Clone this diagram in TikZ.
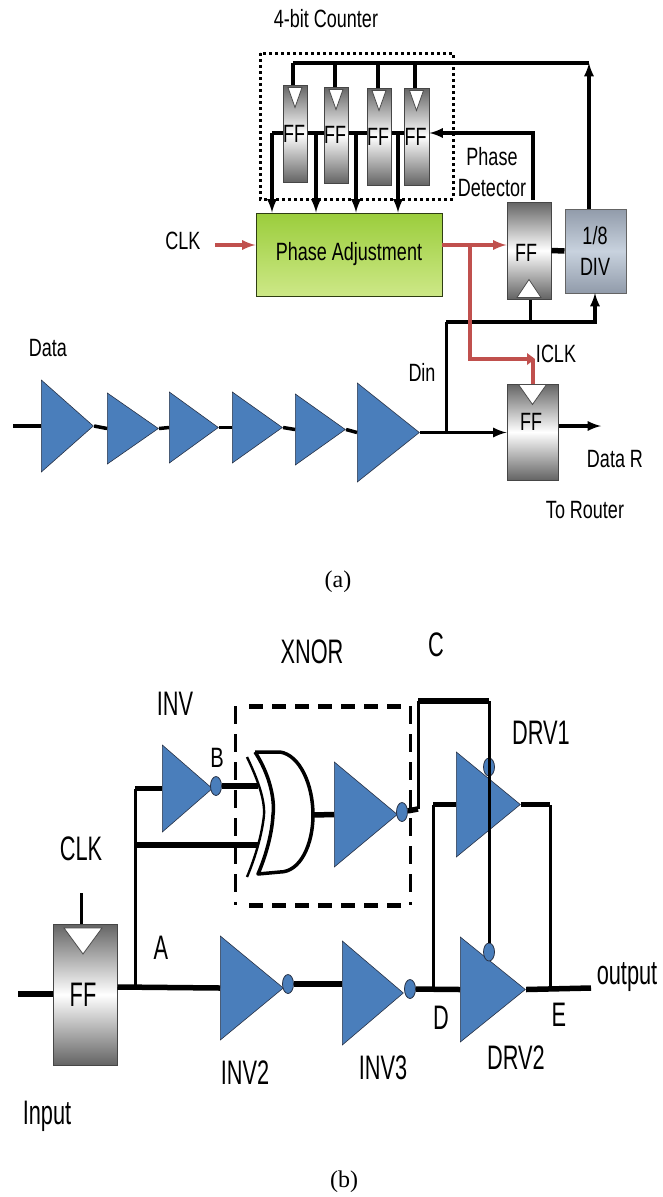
\documentclass[tikz,border=0pt]{standalone}
\usepackage{fontspec}
\usepackage{xcolor}
\usetikzlibrary{shapes.geometric,calc}
\setmainfont{Liberation Sans}
\newfontfamily\smallfont[FakeStretch=0.72]{Liberation Sans}
\newfontfamily\largefont[FakeStretch=0.64]{Liberation Sans}
\newfontfamily\capfont{Liberation Serif}
\definecolor{bufblue}{RGB}{74,126,187}
\definecolor{darkline}{RGB}{40,50,70}
\definecolor{clkred}{RGB}{192,80,77}
\definecolor{ffgray}{RGB}{100,100,100}
\definecolor{divgray}{RGB}{145,155,170}
\definecolor{divlight}{RGB}{200,210,222}
\definecolor{adjtop}{RGB}{155,205,60}
\definecolor{adjbottom}{RGB}{205,232,135}
\tikzset{
  labela/.style={inner sep=0pt, align=center, font=\smallfont\fontsize{25}{31}\selectfont},
  labelb/.style={inner sep=0pt, align=center, font=\largefont\fontsize{34}{38}\selectfont},
  caplabel/.style={inner sep=0pt, font=\capfont\fontsize{24}{28}\selectfont},
  wire/.style={draw=black, line width=3.5pt},
  wirefat/.style={draw=black, line width=5.5pt},
  wirethin/.style={draw=black, line width=3pt},
  redwire/.style={draw=clkred, line width=3.5pt},
  buf/.style={isosceles triangle, isosceles triangle stretches, shape border rotate=0,
    draw=darkline, line width=.6pt, fill=bufblue, inner sep=0pt, anchor=lower side},
  bubble/.style={ellipse, draw=darkline, line width=.8pt, fill=bufblue, inner sep=0pt,
    minimum width=11pt, minimum height=19pt},
  ffbox/.style={rectangle, draw=ffgray!70!black, line width=1pt, inner sep=0pt,
    top color=ffgray, bottom color=ffgray, middle color=white},
  divbox/.style={rectangle, draw=ffgray, line width=1pt, inner sep=0pt,
    top color=divgray, bottom color=divgray, middle color=divlight},
  adjbox/.style={rectangle, draw=black!70!adjtop, line width=1pt, inner sep=0pt,
    top color=adjtop, bottom color=adjbottom},
  clocktri/.style={draw=black!70, line width=.8pt, fill=white},
}
\begin{document}
\begin{tikzpicture}[x=1pt, y=-1pt]
  \useasboundingbox (0,0) rectangle (662,1197);

  % part (a): counter
  \node[ffbox, minimum width=24pt, minimum height=97pt] (ffa) at (295,133.5) {};
  \node[ffbox, minimum width=24pt, minimum height=96pt] (ffb) at (336,135) {};
  \node[ffbox, minimum width=24pt, minimum height=97pt] (ffc) at (379,136.5) {};
  \node[ffbox, minimum width=25pt, minimum height=97pt] (ffd) at (416.5,136.5) {};
  \foreach \n in {ffa,ffb,ffc,ffd}{
    \path[clocktri] ($(\n.north)+(-7,3)$) -- ++(14,0) -- ++(-7,20) -- cycle;
    \node[labela] at ($(\n.center)+(-1,0)$) {FF};
  }
  \node[adjbox, minimum width=186pt, minimum height=83pt, font=\smallfont\fontsize{25}{31}\selectfont] (adj) at (349,254.5) {Phase Adjustment};
  \node[ffbox, minimum width=44pt, minimum height=97pt] (ffp) at (529,250.5) {};
  \node[labela] (ffplabel) at (526,253) {FF};
  \path[clocktri] ($(ffp.south)+(-12,-2)$) -- ++(24,0) -- ++(-12,-18) -- cycle;
  \node[divbox, minimum width=61pt, minimum height=84pt] (div) at (595.5,251) {};
  \node[labela] (divlabel) at (595,251) {1/8\\DIV};

  \coordinate (bustop) at (293,63);
  \coordinate (busend) at (589,63);
  \draw[wire] (bustop) -- (busend);
  \draw[wire] (bustop) -- (293,85);
  \draw[wire] (335,63) -- (335,87);
  \draw[wire] (378,63) -- (378,88);
  \draw[wire] (415,63) -- (415,88);
  \draw[wire,-latex] (div.north -| busend) -- (busend);

  \coordinate (cha) at (272,133);
  \coordinate (chb) at (316,133);
  \coordinate (chc) at (356,133);
  \coordinate (chd) at (398,133);
  \coordinate (pdup) at (533,200);
  \draw[wire] (cha) -- (ffa.west |- cha);
  \draw[wire] (ffa.east |- cha) -- (ffb.west |- cha);
  \draw[wire] (ffb.east |- cha) -- (ffc.west |- cha);
  \draw[wire] (ffc.east |- cha) -- (ffd.west |- cha);
  \draw[wire,-latex] (cha) -- (cha |- adj.north);
  \draw[wire,-latex] (chb) -- (chb |- adj.north);
  \draw[wire,-latex] (chc) -- (chc |- adj.north);
  \draw[wire,-latex] (chd) -- (chd |- adj.north);
  \draw[wire,-latex] (pdup) |- (ffd.east |- cha);
  \draw[wirefat] (ffp.east) -- (div.west);

  \draw[line width=3pt, dash pattern=on 3pt off 3pt] (260,53) rectangle (453,199);

  \coordinate (clkin) at (215,245);
  \coordinate (adjout) at (442,245);
  \draw[redwire,-latex] (clkin) -- (adj.west |- clkin);
  \draw[redwire,-latex] (adjout) -- (ffp.west |- adjout);

  \node[labela] (cntlabel) at (326,19) {4-bit Counter};
  \node[labela] (pdlabel) at (492,172) {Phase\\Detector};
  \node[labela] (clkalabel) at (183,241) {CLK};

  % part (a): data path
  \node[buf, minimum width=92pt, minimum height=52pt] (ta) at (41,426) {};
  \node[buf, minimum width=71pt, minimum height=51pt] (tb) at (107,428.5) {};
  \node[buf, minimum width=71pt, minimum height=49pt] (tc) at (169,427.5) {};
  \node[buf, minimum width=71pt, minimum height=50pt] (td) at (232,427.5) {};
  \node[buf, minimum width=71pt, minimum height=50pt] (te) at (295,429.5) {};
  \node[buf, minimum width=99pt, minimum height=62pt] (tf) at (357,432.5) {};
  \node[ffbox, minimum width=51pt, minimum height=96pt] (ffr) at (532.5,432) {};
  \node[labela] (ffrlabel) at (531,422) {FF};
  \path[clocktri] ($(ffr.north)+(-14,1)$) -- ++(28,0) -- ++(-14,20) -- cycle;

  \coordinate (ina) at (13,426);
  \coordinate (outr) at (601,426);
  \coordinate (jd) at (446,432);
  \coordinate (jn) at (446,322);
  \coordinate (divin) at (595,293);
  \coordinate (ffpin) at (530,322);
  \coordinate (redup) at (470,245);
  \coordinate (redin) at (533,359);
  \draw[wire] (ina) -- (ta.lower side);
  \draw[wire] (ta.apex) -- (tb.lower side);
  \draw[wire] (tb.apex) -- (tc.lower side);
  \draw[wire] (tc.apex) -- (td.lower side);
  \draw[wire] (td.apex) -- (te.lower side);
  \draw[wire] (te.apex) -- (tf.lower side);
  \draw[wire,-latex] (tf.apex) -- (ffr.west |- tf.apex);
  \draw[wire,-latex] (ffr.east |- outr) -- (outr);
  \draw[wirethin] (jd) -- (jn);
  \draw[wire,-latex] (jn) -| (divin);
  \draw[wirethin] (ffpin) -- (ffpin |- ffp.south);
  \draw[redwire] (redup) |- (redin);
  \draw[redwire] (redin |- ffr.north) -- (redin);
  \fill[clkred] (527,353) -- (535,359) -- (527,365) -- cycle;

  \node[labela] (datalabel) at (48,348) {Data};
  \node[labela] (dinlabel) at (422,372) {Din};
  \node[labela] (iclklabel) at (556,354) {ICLK};
  \node[labela] (datarlabel) at (615,459) {Data R};
  \node[labela] (routerlabel) at (585,510) {To Router};
  \node[caplabel] (capa) at (338,582) {(a)};

  % part (b): gates
  \node[buf, minimum width=87pt, minimum height=50pt] (inva) at (162,788.5) {};
  \node[bubble] (bubinv) at (216,786) {};
  \node[buf, minimum width=105pt, minimum height=63pt] (invx) at (334,814.5) {};
  \node[bubble] (bubx) at (402,812) {};
  \node[buf, minimum width=105pt, minimum height=64pt] (drva) at (456,804.5) {};
  \node[buf, minimum width=104pt, minimum height=63pt] (inve) at (220,988) {};
  \node[bubble] (bube) at (288,984) {};
  \node[buf, minimum width=104pt, minimum height=61pt] (invf) at (342,993) {};
  \node[bubble] (bubf) at (410,989) {};
  \node[buf, minimum width=105pt, minimum height=65pt] (drvb) at (460,989.5) {};
  \node[ffbox, minimum width=64pt, minimum height=141pt] (ffin) at (85,994.5) {};
  \node[labelb] (ffinlabel) at (83,995) {FF};
  \path[clocktri] (64,928) -- (102,928) -- (83,954) -- cycle;

  \coordinate (xa) at (258,786);
  \coordinate (xb) at (258,845);
  \coordinate (xo) at (313,815);
  \coordinate (ja) at (135,987);
  \coordinate (inb) at (18,994);
  \coordinate (jx) at (135,845);
  \coordinate (clkb) at (81,893);
  \coordinate (outb) at (591,988);
  \draw[line width=3.5pt, line join=round] (255,752) -- (280,752) .. controls (300,755) and (313,785) .. (xo)
    .. controls (313,845) and (300,872) .. (280,872) -- (258,874)
    .. controls (265,858) and (272,835) .. (273,815) .. controls (275,800) and (270,775) .. (255,752);
  \draw[line width=2.4pt] (247,757) .. controls (258,780) and (265,800) .. (264,815) .. controls (262,835) and (255,858) .. (247,877);

  \draw[wirefat] (bubinv) -- (xa);
  \draw[wirefat] (jx) -- (xb);
  \draw[wirefat] (xo) -- (invx.lower side);
  % dashed box: the long sides are heavier than the short ones
  \draw[line width=5pt, dash pattern=on 14pt off 9pt] (249,706) -- (410,706) (249,905) -- (410,905);
  \draw[line width=3pt, dash pattern=on 18pt off 10pt] (235,706) -- (235,905) (410,706) -- (410,905);

  \draw[wirefat] (ja |- inva.lower side) -- (inva.lower side);
  \draw[wirethin] (ja) -- (ja |- inva.lower side);
  \draw[wirefat] (ffin.east |- ja) -- (inve.lower side);
  \draw[wirefat] (inb) -- (ffin.west |- inb);
  \draw[wirethin] (clkb) -- (clkb |- ffin.north);
  \draw[wirefat] (bube) -- (invf.lower side |- bube);
  \draw[wirefat] (bubf) -- (drvb.lower side);
  \draw[wirefat] (drvb.apex) -- (outb);

  \coordinate (jc) at (418,809);
  \coordinate (jt) at (489,701);
  \coordinate (jl) at (433,988);
  \coordinate (jr) at (550,988);
  \draw[wirefat] (bubx) -- (jc);
  \draw[wirethin] (jc) -- (jc |- jt);
  \draw[wirefat] (jc |- jt) -- (jt);
  \node[bubble, minimum height=18pt] (bubd) at (489,767) {};
  \node[bubble, minimum height=18pt] (bubg) at (489,952) {};
  \draw[wirethin] (jt) -- (bubg.north);
  \draw[wirefat] (jl |- drva.lower side) -- (drva.lower side);
  \draw[wirethin] (jl) -- (jl |- drva.lower side);
  \draw[wirefat] (jr |- drva.apex) -- (drva.apex);
  \draw[wirethin] (jr) -- (jr |- drva.apex);

  \node[labelb] (invlabel) at (175,704) {INV};
  \node[labela, font=\smallfont\fontsize{28}{31}\selectfont] (blabel) at (217,758) {B};
  \node[labelb] (xnorlabel) at (312,652) {XNOR};
  \node[labelb] (clabel) at (436,645) {C};
  \node[labelb] (drvalabel) at (541,733) {DRV1};
  \node[labelb] (clkblabel) at (81,849) {CLK};
  \node[labelb] (alabel) at (161,948) {A};
  \node[labelb] (dlabel) at (441,1018) {D};
  \node[labelb] (elabel) at (559,1015) {E};
  \node[labelb] (outlabel) at (627,977) {output};
  \node[labelb] (drvblabel) at (516,1058) {DRV2};
  \node[labelb] (inveolabel) at (245,1073) {INV2};
  \node[labelb] (invflabel) at (383,1068) {INV3};
  \node[labelb] (inputlabel) at (47,1116) {Input};
  \node[caplabel] (capb) at (344,1182) {(b)};
\end{tikzpicture}
\end{document}
